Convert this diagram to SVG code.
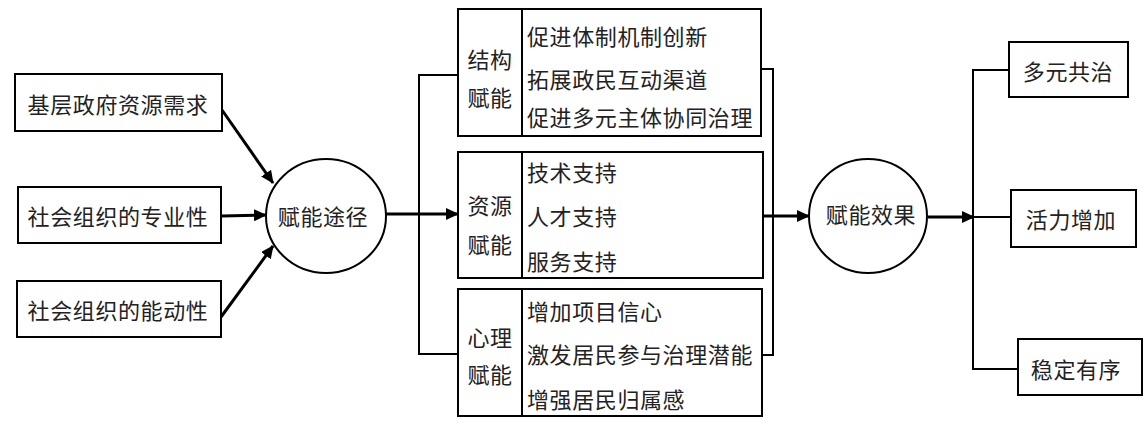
<svg xmlns="http://www.w3.org/2000/svg" width="1146" height="423" viewBox="0 0 1146 423">
<style>
.box{fill:#fff;stroke:#000;stroke-width:2}
.t{font-family:"Noto Sans CJK SC","Noto Sans CJK JP",sans-serif;font-size:22px;fill:#222;letter-spacing:0.6px}
.m{text-anchor:middle}
.ln{fill:none;stroke:#000;stroke-width:2}
.ar{fill:none;stroke:#000;stroke-width:3}
</style>
<defs>
<marker id="ah" markerUnits="userSpaceOnUse" markerWidth="14" markerHeight="12" refX="12" refY="6" orient="auto">
<path d="M0,0 L13,6 L0,12 Z" fill="#000"/>
</marker>
</defs>
<rect width="1146" height="423" fill="#fff"/>
<g id="connectors">
<line class="ar" x1="222" y1="110" x2="273" y2="183" marker-end="url(#ah)"/>
<line class="ar" x1="222" y1="216" x2="266" y2="215" marker-end="url(#ah)"/>
<line class="ar" x1="221" y1="317" x2="273" y2="246" marker-end="url(#ah)"/>
<line class="ar" x1="386" y1="214" x2="458" y2="214" marker-end="url(#ah)"/>
<polyline class="ln" points="458,75 419,75 419,354 458,354"/>
<polyline class="ln" points="761,69 773,69 773,355 762,355"/>
<line class="ar" x1="763" y1="216" x2="809" y2="216" marker-end="url(#ah)"/>
<line class="ar" x1="928" y1="217" x2="974" y2="217" marker-end="url(#ah)"/>
<polyline class="ln" points="1009,70 973,70 973,369 1018,369"/>
<line class="ln" x1="973" y1="217" x2="1011" y2="217"/>
</g>
<g id="n1"><rect class="box" x="15" y="74" width="207" height="57"/><text class="t m" x="118" y="113">基层政府资源需求</text></g>
<g id="n2"><rect class="box" x="18" y="187" width="203" height="56"/><text class="t m" x="118" y="225">社会组织的专业性</text></g>
<g id="n3"><rect class="box" x="17" y="281" width="204" height="56"/><text class="t m" x="118" y="319">社会组织的能动性</text></g>
<g id="c1"><ellipse class="box" cx="326" cy="216" rx="60" ry="57"/><text class="t m" x="323" y="225">赋能途径</text></g>
<g id="s1"><rect class="box" x="458" y="9" width="303" height="127"/><line class="ln" x1="522" y1="9" x2="522" y2="136"/>
<text class="t m" x="490" y="68">结构</text><text class="t m" x="490" y="106">赋能</text>
<text class="t" x="527" y="45">促进体制机制创新</text><text class="t" x="527" y="88">拓展政民互动渠道</text><text class="t" x="527" y="126">促进多元主体协同治理</text></g>
<g id="s2"><rect class="box" x="458" y="152" width="305" height="126"/><line class="ln" x1="522" y1="152" x2="522" y2="278"/>
<text class="t m" x="490" y="214">资源</text><text class="t m" x="490" y="253">赋能</text>
<text class="t" x="527" y="181">技术支持</text><text class="t" x="527" y="225">人才支持</text><text class="t" x="527" y="270">服务支持</text></g>
<g id="s3"><rect class="box" x="458" y="289" width="304" height="127"/><line class="ln" x1="522" y1="289" x2="522" y2="416"/>
<text class="t m" x="490" y="346">心理</text><text class="t m" x="490" y="383">赋能</text>
<text class="t" x="527" y="320">增加项目信心</text><text class="t" x="527" y="363">激发居民参与治理潜能</text><text class="t" x="527" y="408">增强居民归属感</text></g>
<g id="c2"><ellipse class="box" cx="868" cy="216" rx="59" ry="57"/><text class="t m" x="871" y="223">赋能效果</text></g>
<g id="r1"><rect class="box" x="1009" y="42" width="119" height="55"/><text class="t m" x="1068" y="80">多元共治</text></g>
<g id="r2"><rect class="box" x="1011" y="190" width="125" height="57"/><text class="t m" x="1071" y="228">活力增加</text></g>
<g id="r3"><rect class="box" x="1018" y="339" width="124" height="56"/><text class="t m" x="1076" y="378">稳定有序</text></g>
</svg>
